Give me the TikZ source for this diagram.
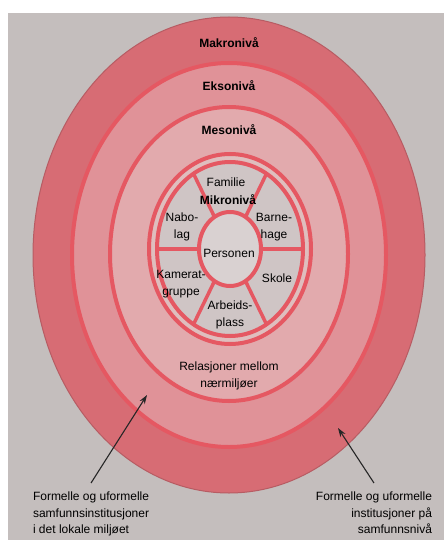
\documentclass[tikz,border=0pt]{standalone}
\usepackage{fontspec}
\setmainfont{Liberation Sans}
\usetikzlibrary{
    arrows.meta,
    calc,
    positioning
}
\definecolor{pagegrey}{RGB}{196,190,189}
\definecolor{ringred}{RGB}{229,88,98}
\definecolor{makrofill}{RGB}{215,108,116}
\definecolor{eksofill}{RGB}{224,146,152}
\definecolor{mesofill}{RGB}{226,170,173}
\definecolor{mikrofill}{RGB}{223,190,190}
\definecolor{segfill}{RGB}{207,197,197}
\definecolor{personfill}{RGB}{217,209,209}
\tikzset{
    every picture/.style = {
        > = Stealth,
        x = 1pt,
        y = -1pt
    },
    ring/.style = {
        draw = ringred,
        line width = 4pt
    },
    spoke/.style = {
        draw = ringred,
        line width = 3.5pt
    },
    every node/.style = {
        inner sep = 0pt,
        outer sep = 0pt,
        align = center,
        font = \fontsize{12}{17.5}\selectfont
    },
    level/.style = {
        font = \fontsize{12}{17.5}\selectfont\bfseries
    },
    pointer/.style = {
        ->,
        draw = black!85,
        line width = 1.1pt,
        > = {Stealth[length = 9pt, width = 6pt]}
    }
}

\begin{document}
\begin{tikzpicture}
    \useasboundingbox (0, 0) rectangle (444, 540);
    \fill[white] (0, 0) rectangle (444, 540);
    \fill[pagegrey] (8, 13) rectangle (444, 540);

    \coordinate (c) at (229, 255);
    \coordinate (mc) at (230, 249);

    % rings
    \path[fill = makrofill, draw = makrofill!85!black, line width = 1pt] (c) ellipse [x radius = 196pt, y radius = 238pt];
    \path[ring, fill = eksofill] (c) ellipse [x radius = 157pt, y radius = 192pt];
    \path[ring, fill = mesofill] (229, 254) ellipse [x radius = 119pt, y radius = 147pt];
    \path[ring, fill = mikrofill] (mc) ellipse [x radius = 81pt, y radius = 95pt];
    \path[ring, fill = segfill] (mc) ellipse [x radius = 73pt, y radius = 87pt];
    \foreach \a in {0, 60, ..., 300}
        \draw[spoke] ($(mc) + (\a:31pt and 37pt)$) -- ($(mc) + (\a:73pt and 87pt)$);
    \path[ring, fill = personfill] (mc) ellipse [x radius = 31pt, y radius = 37pt];

    \node[level] (makro) at (229, 43) {Makronivå};
    \node[level] (ekso) at (229, 86) {Eksonivå};
    \node[level] (meso) at (229, 130) {Mesonivå};

    \node (familie) at (226, 182) {Familie};
    \node[level] (mikro) at (228, 200) {Mikronivå};
    \node (nabolag) at (182, 227) {Nabo-\\lag};
    \node (barnehage) at (274, 227) {Barne-\\hage};
    \node (personen) at (229, 253) {Personen};
    \node (kamerat) at (181, 284) {Kamerat-\\gruppe};
    \node (skole) at (277, 278) {Skole};
    \node (arbeid) at (230, 315) {Arbeids-\\plass};
    \node (relasjoner) at (229, 376) {Relasjoner mellom\\nærmiljøer};

    \node[anchor = north west, align = left, font = \fontsize{12}{16.5}\selectfont] (lokal) at (33, 492) {Formelle og uformelle\\samfunnsinstitusjoner\\i det lokale miljøet};
    \node[anchor = north east, align = right, font = \fontsize{12}{16.5}\selectfont] (samfunn) at (432, 492) {Formelle og uformelle\\institusjoner på\\samfunnsnivå};

    \coordinate (ltip) at (147, 395);
    \coordinate (rtip) at (338, 428);
    \draw[pointer] ([yshift = 9pt]lokal.north) -- (ltip);
    \draw[pointer] ([yshift = 9pt]samfunn.north) -- (rtip);
\end{tikzpicture}
\end{document}
